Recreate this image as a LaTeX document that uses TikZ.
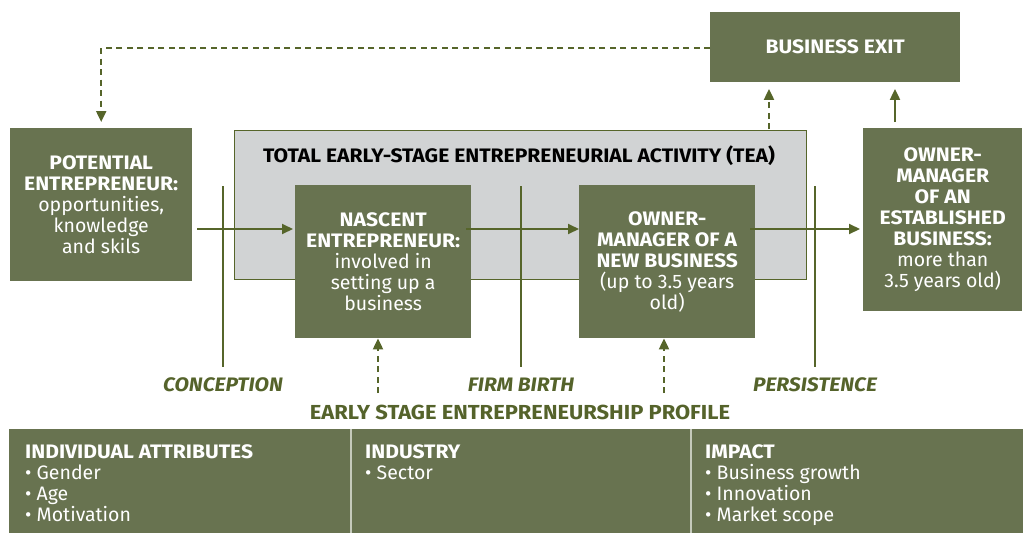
\documentclass[tikz,border=0pt]{standalone}
\usepackage{fontspec}
\setmainfont{Fira Sans}[BoldFeatures={FakeStretch=1.08}, BoldItalicFeatures={FakeStretch=1.08}]
\usetikzlibrary{arrows.meta}

\definecolor{boxgreen}{HTML}{687350}
\definecolor{linegreen}{HTML}{56652A}
\definecolor{labelgreen}{HTML}{55632B}
\definecolor{teagrey}{HTML}{D1D3D4}
\definecolor{divider}{HTML}{C5CABB}

\tikzset{
  stagebox/.style={fill=boxgreen, text=white, inner sep=0pt, align=center,
    font=\fontsize{19.5}{21}\selectfont, anchor=north west},
  flow/.style={draw=linegreen, line width=2pt, -{Triangle[length=11pt,width=10pt]}},
  dashflow/.style={flow, dash pattern=on 6pt off 4.5pt},
  stageline/.style={draw=linegreen, line width=2pt},
  stagelabel/.style={text=labelgreen, font=\fontsize{19.5}{21}\selectfont\bfseries\itshape, inner sep=0pt},
  paneltext/.style={text=white, inner sep=0pt, align=left, anchor=north west,
    font=\fontsize{19.5}{21}\selectfont},
}

\begin{document}
\begin{tikzpicture}[x=1pt, y=-1pt]
\useasboundingbox (0,0) rectangle (1023,533);

% TEA frame
\node[fill=teagrey, draw=linegreen, line width=1.5pt, minimum width=572pt, minimum height=149pt,
      anchor=north west, inner sep=0pt] (tea) at (233.5,129.5) {};
\node[font=\fontsize{19.5}{21}\selectfont\bfseries, inner sep=0pt] (teatitle) at (519,156)
  {TOTAL EARLY-STAGE ENTREPRENEURIAL ACTIVITY (TEA)};

% stage lines
\coordinate (conctop) at (223,186);
\coordinate (birthtop) at (521,186);
\coordinate (perstop) at (815,186);
\coordinate (linebot) at (0,367);
\draw[stageline] (conctop) -- (conctop |- linebot);
\draw[stageline] (birthtop) -- (birthtop |- linebot);
\draw[stageline] (perstop) -- (perstop |- linebot);

% stage boxes
\node[stagebox, minimum width=182pt, minimum height=153pt] (pot) at (10,128)
  {\textbf{POTENTIAL}\\\textbf{ENTREPRENEUR:}\\opportunities,\\knowledge\\and skils};
\node[stagebox, minimum width=176pt, minimum height=153pt] (nas) at (295,185)
  {\textbf{NASCENT}\\\textbf{ENTREPRENEUR:}\\involved in\\setting up a\\business};
\node[stagebox, minimum width=176pt, minimum height=153pt] (own) at (579,185)
  {\textbf{OWNER-}\\\textbf{MANAGER OF A}\\\textbf{NEW BUSINESS}\\(up to 3.5 years\\old)};
\node[stagebox, minimum width=159pt, minimum height=183pt] (est) at (863,128)
  {\textbf{OWNER-}\\\textbf{MANAGER}\\\textbf{OF AN}\\\textbf{ESTABLISHED}\\\textbf{BUSINESS:}\\more than\\3.5 years old)};
\node[stagebox, minimum width=250pt, minimum height=70pt] (exit) at (710,11.5)
  {\textbf{BUSINESS EXIT}};

% main flow
\coordinate (row) at (0,229);
\draw[flow] ([xshift=5pt]pot.east |- row) -- ([xshift=-2pt]nas.west |- row);
\draw[flow] ([xshift=-5pt]nas.east |- row) -- (own.west |- row);
\draw[flow] ([xshift=-5pt]own.east |- row) -- ([xshift=-3pt]est.west |- row);

% exits and feedback
\coordinate (teaexit) at (769,129);
\coordinate (estexit) at (895,122);
\draw[dashflow] (teaexit) -- ([yshift=-7pt]exit.south -| teaexit);
\draw[flow] (estexit) -- ([yshift=-7pt]exit.south -| estexit);
\draw[dashflow] (exit.west |- 0,48) -| ([yshift=6pt]pot.north);

% stage labels
\node[stagelabel] (conclab) at (223,385) {CONCEPTION};
\node[stagelabel] (birthlab) at (521,385) {FIRM BIRTH};
\node[stagelabel] (perslab) at (815,385) {PERSISTENCE};

% profile
\coordinate (profa) at (378,393);
\coordinate (profb) at (664,393);
\draw[dashflow] (profa) -- (profa |- nas.south);
\draw[dashflow] (profb) -- (profb |- own.south);
\node[text=labelgreen, font=\fontsize{20.3}{21}\selectfont\bfseries, inner sep=0pt] (proflab) at (520,412)
  {EARLY STAGE ENTREPRENEURSHIP PROFILE};

% profile panel
\node[fill=boxgreen, minimum width=1014pt, minimum height=104pt, anchor=north west, inner sep=0pt]
  (panel) at (9,429) {};
\coordinate (diva) at (351,0);
\coordinate (divb) at (691,0);
\draw[divider, line width=1.5pt] (panel.north -| diva) -- (panel.south -| diva);
\draw[divider, line width=1.5pt] (panel.north -| divb) -- (panel.south -| divb);

\node[paneltext] (attr) at (25,444)
  {\textbf{INDIVIDUAL ATTRIBUTES}\\• Gender\\• Age\\• Motivation};
\node[paneltext] (ind) at (365,444)
  {\textbf{INDUSTRY}\\• Sector};
\node[paneltext] (imp) at (705,444)
  {\textbf{IMPACT}\\• Business growth\\• Innovation\\• Market scope};
\end{tikzpicture}
\end{document}
